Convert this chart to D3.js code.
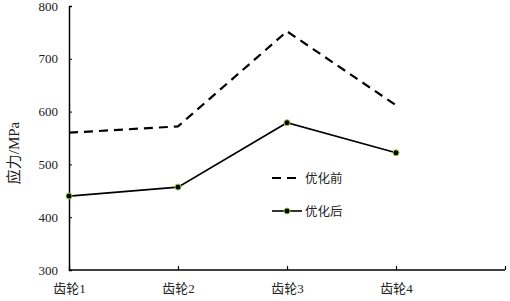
<!DOCTYPE html>
<html>
<head>
<meta charset="utf-8">
<script src="https://cdn.jsdelivr.net/npm/d3@7"></script>
<style>
	body { margin: 0; background: #fff; }
	text { font-family: "Liberation Serif", "Noto Sans CJK SC", serif; fill: #222; }
</style>
</head>
<body>
<svg id="chart" width="510" height="301"></svg>
<script>
// categories (5th slot is empty, Excel-style)
const gears = ['齿轮1', '齿轮2', '齿轮3', '齿轮4', '']
const before = [560, 572, 752, 612]   // 优化前
const after = [440, 457, 579, 522]    // 优化后
const yTicks = [300, 400, 500, 600, 700, 800]
const seriesNames = ['优化前', '优化后']

const svg = d3.select('#chart')
const plotLeft = 69, plotRight = 505, plotTop = 6, plotBottom = 270

const x = d3.scalePoint()
	.domain(gears.map((g, i) => i))
	.range([plotLeft, plotRight])

const y = d3.scaleLinear()
	.domain([300, 800])
	.range([plotBottom, plotTop])

// y axis, ticks inside
const yAxis = svg.append('g')
	.attr('transform', `translate(${plotLeft},0)`)
	.call(d3.axisRight(y).tickValues(yTicks).tickSize(3).tickFormat(d3.format('d')))
yAxis.select('.domain').attr('stroke', '#000').attr('stroke-width', 1.5)
yAxis.selectAll('.tick text')
	.attr('x', -11)
	.attr('text-anchor', 'end')
	.attr('font-size', 13)
	.attr('font-family', '"Liberation Serif", serif')

// x axis, ticks pointing up
const xAxis = svg.append('g')
	.attr('transform', `translate(0,${plotBottom})`)
	.call(d3.axisTop(x).tickSize(4).tickFormat((i) => gears[i]))
xAxis.select('.domain').attr('stroke', '#000').attr('stroke-width', 1.5)
	.attr('d', `M${plotLeft},0H${plotRight}`)
xAxis.selectAll('.tick line').attr('stroke-width', 1.2)
xAxis.selectAll('.tick text')
	.attr('y', 23)
	.attr('font-size', 13)

// y title
svg.append('text')
	.attr('transform', 'translate(19,153) rotate(-90)')
	.attr('text-anchor', 'middle')
	.attr('font-size', 15)
	.text('应力/MPa')

const line = d3.line()
	.x((d, i) => x(i))
	.y((d) => y(d))

svg.append('path')
	.datum(before)
	.attr('d', line)
	.attr('fill', 'none')
	.attr('stroke', '#000')
	.attr('stroke-width', 2.2)
	.attr('stroke-dasharray', '9,6')

svg.append('path')
	.datum(after)
	.attr('d', line)
	.attr('fill', 'none')
	.attr('stroke', '#000')
	.attr('stroke-width', 1.6)

svg.selectAll('.dot')
	.data(after)
	.enter().append('circle')
		.attr('class', 'dot')
		.attr('cx', (d, i) => x(i))
		.attr('cy', (d) => y(d))
		.attr('r', 3)
		.attr('fill', '#000')
		.attr('stroke', '#9acd32')
		.attr('stroke-width', 1)

// legend
const legend = svg.append('g')
legend.append('line')
	.attr('x1', 272).attr('x2', 300).attr('y1', 178).attr('y2', 178)
	.attr('stroke', '#000').attr('stroke-width', 2.2).attr('stroke-dasharray', '9,6')
legend.append('text')
	.attr('x', 305).attr('y', 182.5)
	.attr('font-size', 12.5)
	.text(seriesNames[0])
legend.append('line')
	.attr('x1', 272).attr('x2', 302).attr('y1', 211).attr('y2', 211)
	.attr('stroke', '#000').attr('stroke-width', 1.6)
legend.append('circle')
	.attr('cx', 287).attr('cy', 211).attr('r', 3)
	.attr('fill', '#000').attr('stroke', '#9acd32').attr('stroke-width', 1)
legend.append('text')
	.attr('x', 305).attr('y', 215.5)
	.attr('font-size', 12.5)
	.text(seriesNames[1])
</script>
</body>
</html>
